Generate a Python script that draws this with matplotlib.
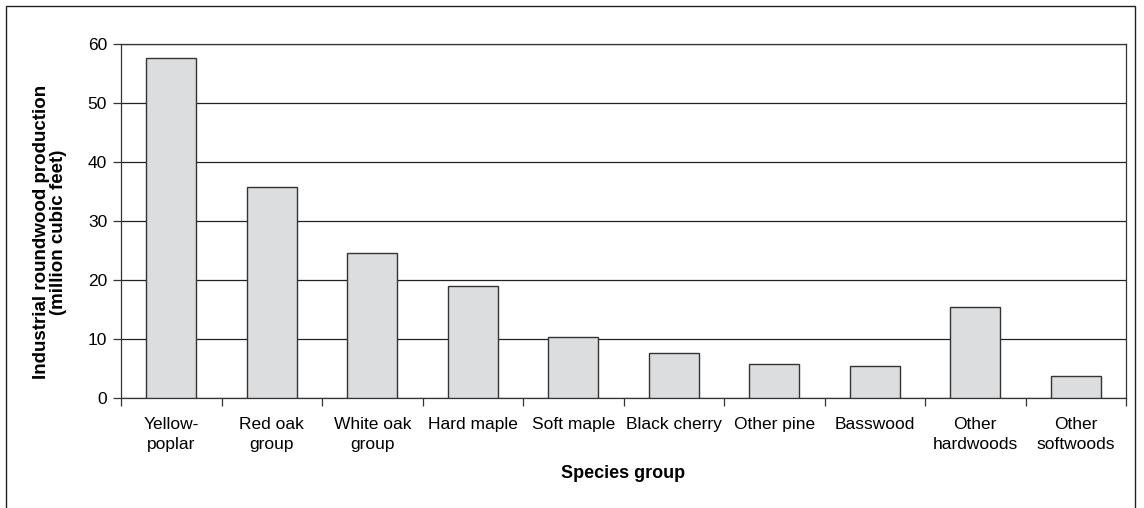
import matplotlib
matplotlib.use("Agg")
import matplotlib.pyplot as plt
from matplotlib.patches import Rectangle

plt.rcParams['font.family'] = ['Liberation Sans', 'DejaVu Sans']

categories = ["Yellow-\npoplar", "Red oak\ngroup", "White oak\ngroup", "Hard maple",
              "Soft maple", "Black cherry", "Other pine", "Basswood",
              "Other\nhardwoods", "Other\nsoftwoods"]
values = [57.6, 35.8, 24.6, 18.9, 10.3, 7.7, 5.7, 5.4, 15.4, 3.7]
yticks = [0, 10, 20, 30, 40, 50, 60]

W, H = 1144, 508
fig = plt.figure(figsize=(W / 100, H / 100), dpi=100)
ax = fig.add_axes([121 / W, 1 - 398 / H, (1126 - 121) / W, (398 - 44) / H])

x = list(range(len(categories)))
ax.bar(x, values, width=0.5, color='#dcdddf', edgecolor='#333333', linewidth=1.0, zorder=3)

ax.set_xlim(-0.5, len(categories) - 0.5)
ax.set_ylim(0, 60)
ax.set_yticks(yticks)
ax.set_yticklabels([str(v) for v in yticks], fontsize=12.5)
ax.yaxis.grid(True, color='#222222', linewidth=0.9, zorder=0)
ax.set_axisbelow(True)

ax.set_xticks(x)
ax.set_xticklabels(categories, fontsize=12.5, linespacing=1.35, va='top')
ax.tick_params(axis='x', which='major', length=0, pad=14)
ax.set_xticks([i + 0.5 for i in range(-1, len(categories))], minor=True)
ax.tick_params(axis='x', which='minor', length=6, width=0.9, color='#333333', direction='out')
ax.tick_params(axis='y', length=6, width=0.9, color='#333333', direction='out', pad=4)

for s in ax.spines.values():
    s.set_color('#333333')
    s.set_linewidth(0.9)

fig.text(50 / W, 1 - 232 / H, "Industrial roundwood production\n(million cubic feet)",
         fontsize=13.5, fontweight='bold', rotation=90, ha='center', va='center',
         multialignment='center', linespacing=1.05)
fig.text(623 / W, 1 - 473 / H, "Species group", fontsize=13, fontweight='bold',
         ha='center', va='center')

fig.patches.append(Rectangle((6 / W, -0.1), (1135 - 6) / W, 1.1 - 6 / H, transform=fig.transFigure,
                             fill=False, edgecolor='#222222', linewidth=1.0))

fig.savefig("out.png", dpi=100)
